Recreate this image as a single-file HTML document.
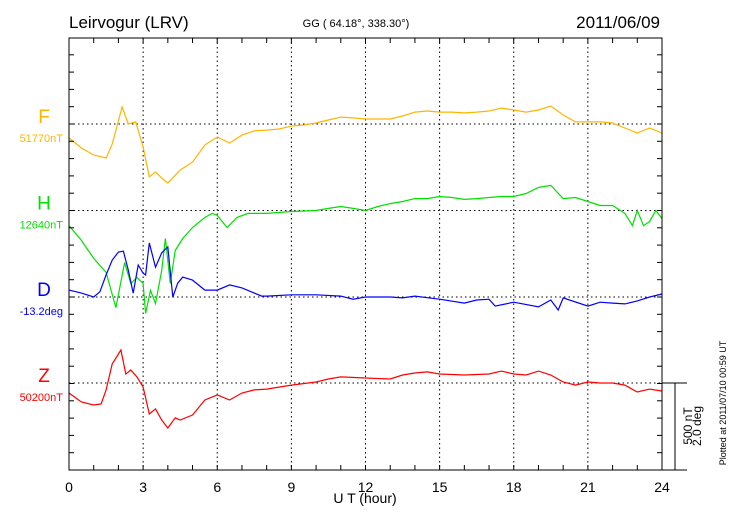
<!DOCTYPE html>
<html><head><meta charset="utf-8"><style>
html,body{margin:0;padding:0;background:#fff;width:730px;height:520px;overflow:hidden}
svg{display:block;font-family:"Liberation Sans",sans-serif}
</style></head><body>
<svg id="chart" width="730" height="520" viewBox="0 0 730 520" xmlns="http://www.w3.org/2000/svg">
<text x="69" y="28" font-size="17">Leirvogur (LRV)</text>
<text x="356" y="27" font-size="11" text-anchor="middle">GG ( 64.18°, 338.30°)</text>
<text x="660" y="28" font-size="17" text-anchor="end">2011/06/09</text>
<g id="grid"></g>
<g id="series"></g>
<rect x="69" y="38" width="593" height="432" fill="none" stroke="#000" stroke-width="1"/>
<g id="ticks"></g>
<text x="365" y="503" font-size="14" text-anchor="middle">U T (hour)</text>
<g stroke="#000" stroke-width="1">
<line x1="662" y1="383" x2="687" y2="383"/><line x1="675" y1="383" x2="675" y2="470"/><line x1="662" y1="470" x2="687" y2="470"/>
</g>
<text transform="translate(692,426) rotate(-90)" font-size="12" text-anchor="middle">500 nT</text>
<text transform="translate(701,426) rotate(-90)" font-size="12" text-anchor="middle">2.0 deg</text>
<text transform="translate(726,403) rotate(-90)" font-size="9" text-anchor="middle">Plotted at 2011/07/10 00:59 UT</text>
</svg>
<script>
const xTickLabels=["0","3","6","9","12","15","18","21","24"];
const fTimes=[0,.5,1,1.5,1.75,2.15,2.4,2.7,3,3.25,3.5,3.75,4,4.5,5,5.5,6,6.5,7,7.5,8,8.5,9,9.5,10,10.5,11,11.5,12,12.5,13,13.5,14,14.5,15,15.5,16,16.5,17,17.5,18,18.5,19,19.5,20,20.5,21,21.5,22,22.5,23,23.5,24];
const fValues=[-81,-139,-179,-197,-116,98,0,12,-133,-306,-277,-312,-341,-266,-220,-121,-75,-110,-64,-40,-35,-29,-12,-6,6,23,40,35,29,29,29,46,69,75,69,69,64,69,75,92,81,69,81,104,52,12,12,12,6,-23,-52,-23,-52];
const hTimes=[0,.5,1,1.5,1.9,2.25,2.5,2.75,3,3.1,3.3,3.5,3.75,3.9,4.1,4.3,4.6,5,5.5,5.8,6,6.4,6.8,7.25,7.5,8,9,10,10.5,11,11.5,12,12.5,13,13.5,14,14.5,15,15.5,16,16.5,17,17.5,18,18.5,19,19.5,20,20.5,21,21.5,22,22.5,22.8,23,23.25,23.5,23.75,24];
const hValues=[-87,-173,-277,-358,-561,-301,-422,-387,-422,-595,-462,-538,-347,-162,-422,-231,-162,-98,-40,-17,-29,-98,-40,-17,-17,-17,-6,0,12,23,12,0,23,40,52,69,69,81,75,64,69,75,81,81,98,133,145,69,75,52,29,29,-17,-87,0,-87,-64,0,-46];
const dTimes=[0,.5,1,1.25,1.5,1.75,2,2.2,2.4,2.6,2.8,3,3.1,3.25,3.5,3.75,4,4.2,4.4,4.6,5,5.5,6,6.5,7,7.5,7.8,8,9,10,11,11.5,12,13,13.5,14,15,16,16.5,17,17.25,18,19,19.5,19.8,20,21,21.5,22,22.5,23,23.5,24];
const dValues=[0.16,0.09,0,0.12,0.51,0.85,1.04,1.06,0.62,0.09,0.74,0.55,0.51,1.25,0.69,1.02,1.16,0,0.32,0.46,0.39,0.16,0.16,0.28,0.21,0.09,0.02,0.02,0.05,0.05,0.02,-0.05,0,0,-0.02,0.02,-0.05,-0.14,-0.07,-0.05,-0.21,-0.12,-0.23,-0.07,-0.3,-0.02,-0.21,-0.12,-0.14,-0.16,-0.09,0,0.07];
const zTimes=[0,.5,1,1.3,1.5,1.75,2.1,2.3,2.5,2.75,3,3.25,3.5,3.75,4,4.3,4.5,5,5.5,6,6.5,7,7.5,8,9,10,10.5,11,12,13,13.5,14,14.5,15,16,17,17.5,18,18.5,19,19.5,20,20.5,21,21.5,22,22.5,23,23.5,24];
const zValues=[-58,-110,-127,-121,-40,110,191,52,75,35,-23,-179,-150,-214,-260,-202,-214,-185,-98,-69,-98,-58,-40,-35,-12,6,23,35,29,23,46,58,64,52,46,52,69,52,46,69,46,6,-12,6,0,0,-12,-52,-35,-46];

const NS="http://www.w3.org/2000/svg";
const X0=69,X1=662,Y0=38,Y1=470;
const xScale=h=>X0+(X1-X0)*h/24;
const pxPerUnitNT=86.5/500, pxPerUnitDeg=86.5/2.0;
const baselines=[124,210.5,297,383];
function mk(tag,attrs,parent){const e=document.createElementNS(NS,tag);for(const k in attrs)e.setAttribute(k,attrs[k]);parent.appendChild(e);return e;}
const grid=document.getElementById('grid'),ticks=document.getElementById('ticks'),series=document.getElementById('series'),svg=document.getElementById('chart');
xTickLabels.forEach((lab,i)=>{
  const x=xScale(+lab);
  if(i>0&&i<xTickLabels.length-1){const g=mk('line',{x1:x,y1:Y0,x2:x,y2:Y1,stroke:'#000','stroke-dasharray':'1.5,3','stroke-width':1},grid);
  
  }
  const t=mk('text',{x:x,y:492,'font-size':14,'text-anchor':'middle'},svg);t.textContent=lab;
  
  
});
baselines.forEach(b=>{const g=mk('line',{x1:X0,y1:b,x2:X1,y2:b,stroke:'#000','stroke-dasharray':'1.5,3','stroke-width':1},grid);
  
  });
for(let h=1;h<24;h++){const x=xScale(h);
  const a=mk('line',{x1:x,y1:Y0,x2:x,y2:Y0+5,stroke:'#000'},ticks);
  
  
  const b=mk('line',{x1:x,y1:Y1,x2:x,y2:Y1-5,stroke:'#000'},ticks);
  
  }
for(let y=Y1-17.3;y>Y0+2;y-=17.3){
  const a=mk('line',{x1:X0,y1:y,x2:X0+5,y2:y,stroke:'#000'},ticks);
  
  
  const b=mk('line',{x1:X1,y1:y,x2:X1-5,y2:y,stroke:'#000'},ticks);
  
  }
const defs=[
 {n:'f',t:fTimes,v:fValues,c:'#ffb400',k:pxPerUnitNT,b:baselines[0],L:'F',S:'51770nT'},
 {n:'h',t:hTimes,v:hValues,c:'#00e000',k:pxPerUnitNT,b:baselines[1],L:'H',S:'12640nT'},
 {n:'d',t:dTimes,v:dValues,c:'#0000ff',k:pxPerUnitDeg,b:baselines[2],L:'D',S:'-13.2deg'},
 {n:'z',t:zTimes,v:zValues,c:'#ff0000',k:pxPerUnitNT,b:baselines[3],L:'Z',S:'50200nT'}];
defs.forEach(s=>{
  const n=Math.min(s.t.length,s.v.length);const pts=[];
  for(let i=0;i<n;i++)pts.push(xScale(s.t[i]).toFixed(1)+','+(s.b-s.v[i]*s.k).toFixed(1));
  const p=mk('polyline',{points:pts.join(' '),fill:'none',stroke:s.c,'stroke-width':1.2},series);
  
  
  const l=mk('text',{x:44,y:s.b-1,'font-size':19,'text-anchor':'middle',fill:s.c},svg);l.textContent=s.L;
  
  
  const u=mk('text',{x:63,y:s.b+18,'font-size':11,'text-anchor':'end',fill:s.c},svg);u.textContent=s.S;
  
  
});
</script>
</body></html>
